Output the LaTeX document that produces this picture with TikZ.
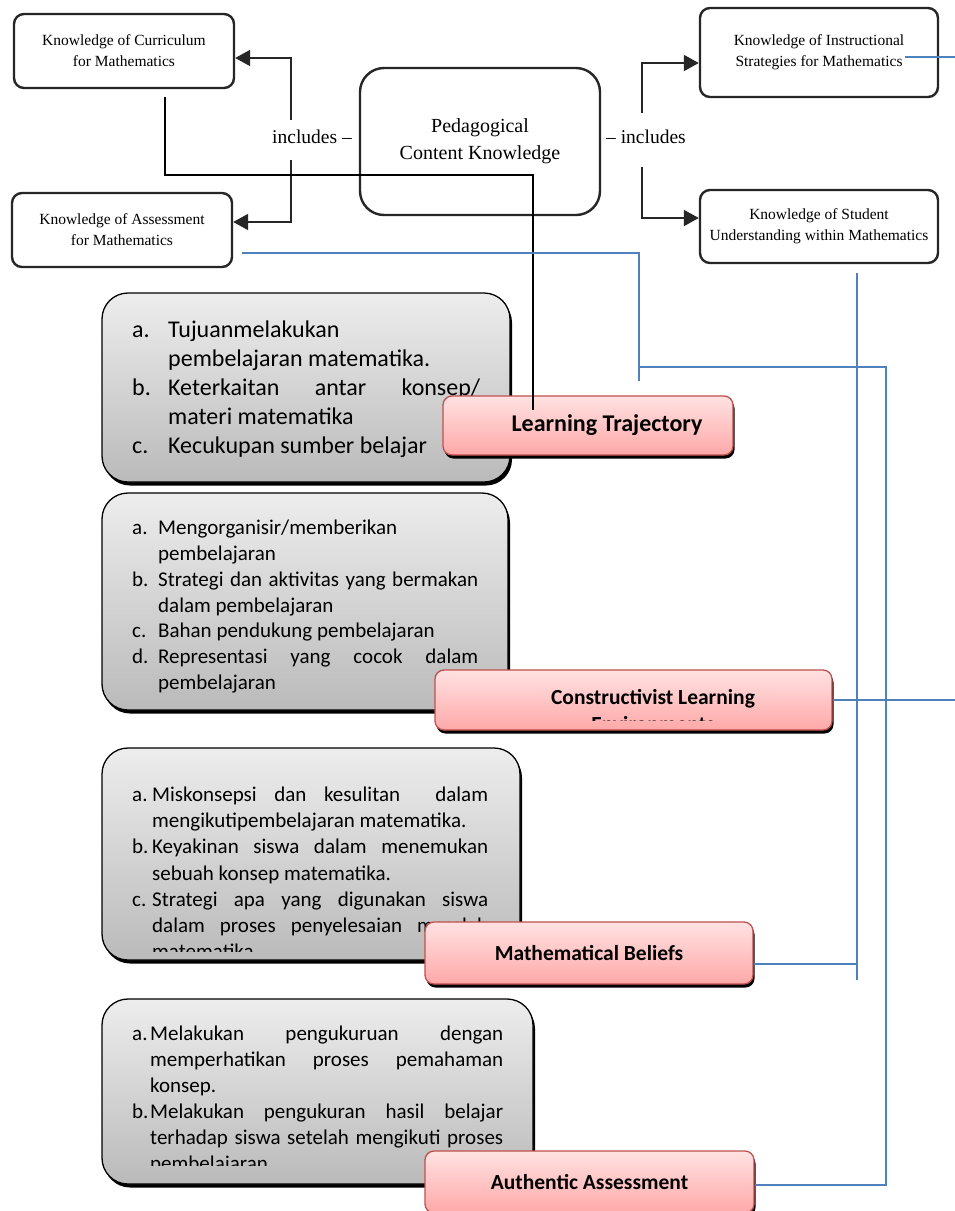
\documentclass[tikz,border=0pt]{standalone}
\usepackage{fontspec}
\setmainfont{Carlito}
\newfontfamily\timesfont{Liberation Serif}
\usetikzlibrary{arrows.meta,shadows}
\definecolor{linkblue}{HTML}{4F81BD}
\definecolor{pinkedge}{HTML}{C0504D}
\definecolor{pinktop}{HTML}{FFE2E2}
\definecolor{pinkbot}{HTML}{FFA8A8}
\definecolor{greytop}{HTML}{EDEDED}
\definecolor{greybot}{HTML}{BABABA}
\newcommand{\itm}[2]{\par\noindent\hangindent=#1\hangafter=1\makebox[#1][l]{\strut#2}}

\begin{document}
\begin{tikzpicture}[x=1pt,y=-1pt,
  topbox/.style={draw=black!85,line width=2.4pt,rounded corners=10pt,fill=white,
    align=center,inner sep=0pt,font=\timesfont\fontsize{15.5}{21}\selectfont},
  pckbox/.style={topbox,rounded corners=24pt,font=\timesfont\fontsize{20}{27}\selectfont},
  inclabel/.style={inner sep=0pt,font=\timesfont\fontsize{19.5}{24}\selectfont},
  incl/.style={draw=black!85,line width=2pt,-{Triangle[length=15pt,width=16pt]}},
  greybox/.style={draw=black,line width=1.3pt,rounded corners=26pt,
    top color=greytop,bottom color=greybot,
    drop shadow={shadow xshift=2pt,shadow yshift=-3.5pt,fill=black,opacity=1}},
  itemtext/.style={anchor=north west,inner sep=0pt,align=justify,text=black},
  pinkbox/.style={draw=pinkedge,line width=1.3pt,rounded corners=9pt,
    top color=pinktop,bottom color=pinkbot,inner sep=0pt,
    font=\bfseries\fontsize{21.5}{24}\selectfont,
    drop shadow={shadow xshift=1.5pt,shadow yshift=-3.5pt,fill=black,opacity=1}},
  tline/.style={draw=black,line width=1.5pt},
  bline/.style={draw=linkblue,line width=1.6pt}]
  \fill[white] (0,0) rectangle (955,1211);
  \useasboundingbox (0,0) rectangle (955,1211);

  % knowledge boxes
  \node[topbox,minimum width=220pt,minimum height=74pt] (curr) at (124,51)
    {Knowledge of Curriculum\\for Mathematics};
  \node[topbox,minimum width=220pt,minimum height=74pt] (assess) at (122,230)
    {Knowledge of Assessment\\for Mathematics};
  \node[pckbox,minimum width=240pt,minimum height=147pt] (pck) at (480,141.5)
    {Pedagogical\\Content Knowledge};
  \node[topbox,minimum width=238pt,minimum height=89pt] (instr) at (819,52.5)
    {Knowledge of Instructional\\Strategies for Mathematics};
  \node[topbox,minimum width=238pt,minimum height=73pt] (student) at (819,226.5)
    {Knowledge of Student\\Understanding within Mathematics};
  \node[inclabel] (inclL) at (312,137) {includes \textendash};
  \node[inclabel] (inclR) at (646,137) {\textendash\ includes};
  \draw[incl] (291,120) |- ([yshift=-7pt]curr.east);
  \draw[incl] (291,160) |- ([yshift=8pt]assess.east);
  \draw[incl] (642,113) |- ([yshift=-10.5pt]instr.west);
  \draw[incl] (642,167) |- ([yshift=8.5pt]student.west);

  % grey lists
  \node[greybox,minimum width=408pt,minimum height=189pt] (g1) at (306,387.5) {};
  \node[itemtext,text width=348pt,font=\fontsize{24}{29}\selectfont] (t1) at (132,308) {%
    \itm{36pt}{a.}Tujuanmelakukan\newline pembelajaran matematika.
    \itm{36pt}{b.}Keterkaitan antar konsep/\linebreak materi matematika
    \itm{36pt}{c.}Kecukupan sumber belajar\par};
  \node[greybox,minimum width=406pt,minimum height=217pt] (g2) at (305,601.5) {};
  \node[itemtext,text width=346pt,font=\fontsize{21}{25.7}\selectfont] (t2) at (132,509) {%
    \itm{26pt}{a.}Mengorganisir/memberikan\newline pembelajaran
    \itm{26pt}{b.}Strategi dan aktivitas yang bermakan\linebreak dalam pembelajaran
    \itm{26pt}{c.}Bahan pendukung pembelajaran
    \itm{26pt}{d.}Representasi yang cocok dalam\linebreak pembelajaran\par};
  \node[greybox,minimum width=418pt,minimum height=212pt] (g3) at (311,854) {};
  \begin{scope}
    \clip (100,740) rectangle (540,951);
    \node[itemtext,text width=356pt,font=\fontsize{21}{26.2}\selectfont] (t3) at (132,775) {%
      \itm{20pt}{a.}Miskonsepsi dan kesulitan \ dalam\linebreak mengikutipembelajaran matematika.
      \itm{20pt}{b.}Keyakinan siswa dalam menemukan\linebreak sebuah konsep matematika.
      \itm{20pt}{c.}Strategi apa yang digunakan siswa\linebreak dalam proses penyelesaian masalah\linebreak matematika.\par};
  \end{scope}
  \node[greybox,minimum width=431pt,minimum height=185pt] (g4) at (317.5,1091.5) {};
  \begin{scope}
    \clip (100,990) rectangle (540,1165);
    \node[itemtext,text width=371pt,font=\fontsize{21}{26}\selectfont] (t4) at (132,1014) {%
      \itm{18pt}{a.}Melakukan pengukuruan dengan\linebreak memperhatikan proses pemahaman\linebreak konsep.
      \itm{18pt}{b.}Melakukan pengukuran hasil belajar\linebreak terhadap siswa setelah mengikuti proses\linebreak pembelajaran.\par};
  \end{scope}

  % pink labels
  \node[pinkbox,minimum width=290pt,minimum height=59pt,
    font=\bfseries\fontsize{24}{24}\selectfont] (lt) at (588,425.5)
    {\hspace*{38pt}Learning Trajectory};
  \node[pinkbox,minimum width=397pt,minimum height=60pt] (cle) at (633.5,700) {};
  \node[inner sep=0pt,font=\bfseries\fontsize{21.5}{24}\selectfont] (cle1) at (653,699)
    {Constructivist Learning};
  \begin{scope}
    \clip (440,660) rectangle (830,720);
    \node[inner sep=0pt,font=\bfseries\fontsize{21.5}{24}\selectfont] (cle2) at (653,724)
      {Environments};
  \end{scope}
  \node[pinkbox,minimum width=328pt,minimum height=62pt] (mb) at (589,953)
    {Mathematical Beliefs};
  \node[pinkbox,minimum width=329pt,minimum height=62pt] (aa) at (589.5,1182)
    {Authentic Assessment};

  % links
  \coordinate (curr-tail) at (165,97);
  \coordinate (lt-head) at (533,410);
  \draw[tline] (curr-tail) -- (165,175) -| (lt-head);
  \draw[bline] (242,253) -| (639,381);
  \draw[bline] (639,367) -| (886,1185) -- (aa.east |- 0,1185);
  \draw[bline] (857,273) -- (857,980);
  \draw[bline] (mb.east |- 0,964) -- (857,964);
  \draw[bline] (cle.east) -- (955,700);
  \draw[bline] (905,57) -- (955,57);
\end{tikzpicture}
\end{document}
